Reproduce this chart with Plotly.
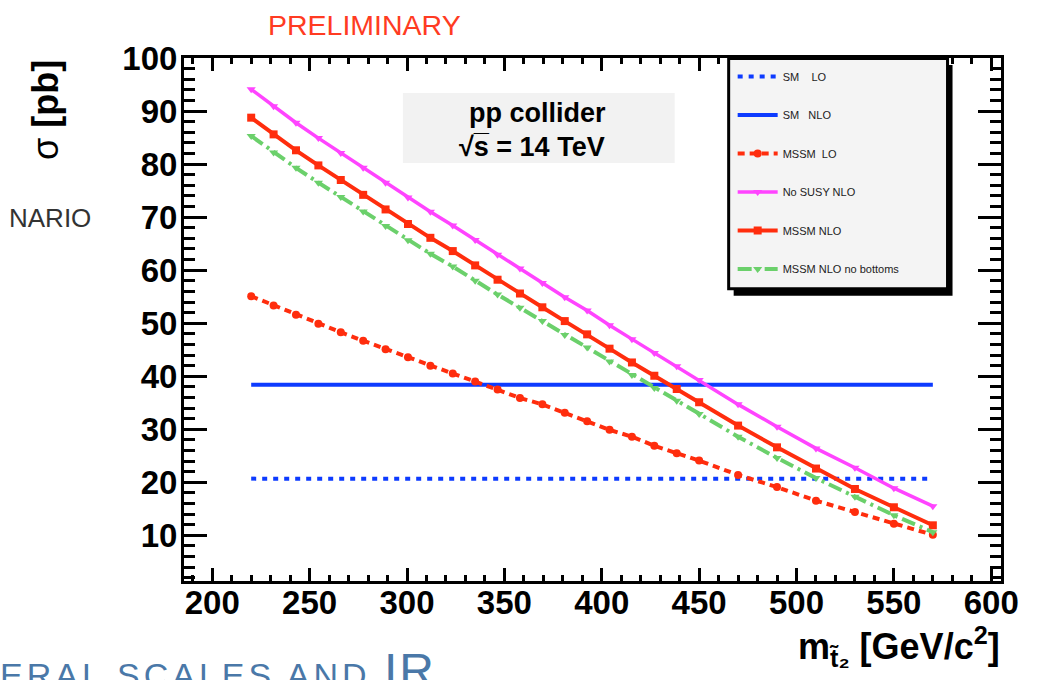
import plotly.graph_objects as go

# ---------------- data ----------------
mass = [220, 231.5, 243, 254.5, 266, 277.5, 289, 300.5, 312, 323.5, 335, 346.5, 358,
        369.5, 381, 392.5, 404, 415.5, 427, 438.5, 450, 470, 490, 510, 530, 550, 570]
mssm_nlo = [88.75, 85.6, 82.6, 79.75, 77.0, 74.2, 71.45, 68.7, 66.1, 63.6, 60.9, 58.2, 55.6,
            53.0, 50.4, 47.9, 45.2, 42.6, 40.1, 37.6, 35.1, 30.7, 26.6, 22.6, 18.75, 15.3, 11.9]
nosusy_nlo = [94.1, 90.9, 87.8, 84.9, 82.1, 79.3, 76.5, 73.7, 71.0, 68.4, 65.7, 62.9, 60.3,
              57.6, 54.9, 52.4, 49.6, 47.0, 44.4, 41.9, 39.3, 34.7, 30.5, 26.4, 22.75, 18.9, 15.5]
mssm_nlo_nob = [85.3, 82.2, 79.3, 76.5, 73.8, 71.05, 68.35, 65.65, 63.1, 60.7, 58.0, 55.4, 52.9,
                50.4, 47.8, 45.4, 42.8, 40.25, 37.8, 35.4, 32.9, 28.6, 24.6, 20.8, 17.3, 13.8, 10.6]
mssm_lo = [55.1, 53.35, 51.6, 49.9, 48.3, 46.7, 45.1, 43.6, 42.0, 40.5, 39.0, 37.5, 35.9,
           34.7, 33.1, 31.5, 29.9, 28.6, 26.9, 25.5, 24.1, 21.4, 19.1, 16.55, 14.4, 12.2, 10.1]
sm_lo = 20.7
sm_nlo = 38.4
x_ticks = [200, 250, 300, 350, 400, 450, 500, 550, 600]
y_ticks = [10, 20, 30, 40, 50, 60, 70, 80, 90, 100]

# ---------------- layout geometry (pixels) ----------------
W, H = 1048, 680
L, R, T, B = 184, 1001.5, 58, 581.5


def xp(px):
    return (px - L) / (R - L)


def yp(py):
    return (B - py) / (B - T)


FONT = "Liberation Sans, Arial, Helvetica, sans-serif"
BLUE = "#0d3bff"
RED = "#ff2d0d"
PINK = "#ff44ff"
GREEN = "#6bd06b"

sm_x = [mass[0], mass[-1]]

fig = go.Figure()
traces = [
    dict(name="SM\u00a0\u00a0\u00a0\u00a0LO", x=sm_x, y=[sm_lo, sm_lo], mode="lines",
         line=dict(color=BLUE, width=4, dash="5px,6px")),
    dict(name="SM\u00a0\u00a0\u00a0NLO", x=sm_x, y=[sm_nlo, sm_nlo], mode="lines",
         line=dict(color=BLUE, width=4)),
    dict(name="MSSM\u00a0\u00a0LO", x=mass, y=mssm_lo, mode="lines+markers",
         line=dict(color=RED, width=4, dash="7px,5px"),
         marker=dict(symbol="circle", size=8, color=RED)),
    dict(name="No SUSY NLO", x=mass, y=nosusy_nlo, mode="lines+markers",
         line=dict(color=PINK, width=3.5),
         marker=dict(symbol="triangle-down", size=8, color=PINK)),
    dict(name="MSSM NLO", x=mass, y=mssm_nlo, mode="lines+markers",
         line=dict(color=RED, width=4),
         marker=dict(symbol="square", size=8, color=RED)),
    dict(name="MSSM NLO no bottoms", x=mass, y=mssm_nlo_nob, mode="lines+markers",
         line=dict(color=GREEN, width=4, dash="14px,5px,3px,5px"),
         marker=dict(symbol="triangle-down", size=8, color=GREEN)),
]
for i, t in enumerate(traces):
    fig.add_trace(go.Scatter(legendgroup=f"g{i}", hoverinfo="skip", **t))

axis_common = dict(
    showline=True, linewidth=3, linecolor="black", mirror="allticks",
    ticks="inside", tickwidth=3, tickcolor="black",
    showgrid=False, zeroline=False,
    tickfont=dict(family=FONT, size=33, color="black", weight="bold"),
)
fig.update_xaxes(range=[185.5, 605], tickvals=x_ticks, ticklen=13, ticklabelstandoff=-10,
                 minor=dict(dtick=10, tick0=200, ticklen=6, tickwidth=3, ticks="inside",
                            tickcolor="black", showgrid=False),
                 **axis_common)
fig.update_yaxes(range=[1.4, 100], tickvals=y_ticks, ticklen=23, ticklabelstandoff=-3,
                 minor=dict(dtick=2, tick0=0, ticklen=11, tickwidth=3, ticks="inside",
                            tickcolor="black", showgrid=False),
                 **axis_common)

shapes = [
    # legend shadow and box
    dict(type="rect", xref="paper", yref="paper", x0=xp(734), x1=xp(953), y0=yp(296), y1=yp(65),
         fillcolor="black", line=dict(width=0), layer="above"),
    dict(type="rect", xref="paper", yref="paper", x0=xp(729), x1=xp(948), y0=yp(289), y1=yp(58.5),
         fillcolor="#f4f4f4", line=dict(color="black", width=3), layer="above"),
    # text box
    dict(type="rect", xref="paper", yref="paper", x0=xp(403), x1=xp(675), y0=yp(163), y1=yp(93),
         fillcolor="#f2f2f2", line=dict(width=0), layer="below"),
]

annotations = [
    dict(text="pp collider", x=xp(538), y=yp(113), font=dict(family=FONT, size=27, weight="bold", color="black")),
    dict(text="\u221as\u0305 = 14 TeV", x=xp(532), y=yp(147), font=dict(family=FONT, size=27, weight="bold", color="black")),
    dict(text="PRELIMINARY", x=xp(365), y=yp(25), font=dict(family=FONT, size=28.5, color="#ff3b22")),
    dict(text="\u03c3 <b>[pb]</b>", x=xp(46), y=yp(110), textangle=-90,
         font=dict(family=FONT, size=36, color="black")),
    dict(text="m<sub>t\u0303\u2082</sub> [GeV/c<sup>2</sup>]", x=xp(1003), y=yp(647), xanchor="right",
         font=dict(family=FONT, size=36, weight="bold", color="black")),
    dict(text="NARIO", x=xp(93), y=yp(218), xanchor="right", font=dict(family=FONT, size=26, color="#333333")),
    dict(text="<span style='letter-spacing:4px'>ERAL SCALES AND </span>"
              "<span style='font-size:48px;letter-spacing:2px'>IR</span>",
         x=xp(-2), y=yp(671), xanchor="left", yanchor="middle",
         font=dict(family=FONT, size=34, color="#4a78a8")),
]
for a in annotations:
    a.setdefault("xref", "paper")
    a.setdefault("yref", "paper")
    a.setdefault("showarrow", False)
    a.setdefault("xanchor", "center")
    a.setdefault("yanchor", "middle")

fig.update_layout(
    width=W, height=H,
    margin=dict(l=L, r=W - R, t=T, b=H - B, autoexpand=False),
    paper_bgcolor="white", plot_bgcolor="white",
    shapes=shapes, annotations=annotations,
    showlegend=True,
    legend=dict(x=xp(733), y=yp(62), xanchor="left", yanchor="top",
                bgcolor="rgba(0,0,0,0)", borderwidth=0,
                font=dict(family=FONT, size=11, color="#222222"),
                tracegroupgap=19.5, itemwidth=40, itemclick=False, itemdoubleclick=False),
)

fig.write_html("out.html", config={"displayModeBar": False},
               post_script="document.body.style.margin='0';document.body.style.padding='0';")
